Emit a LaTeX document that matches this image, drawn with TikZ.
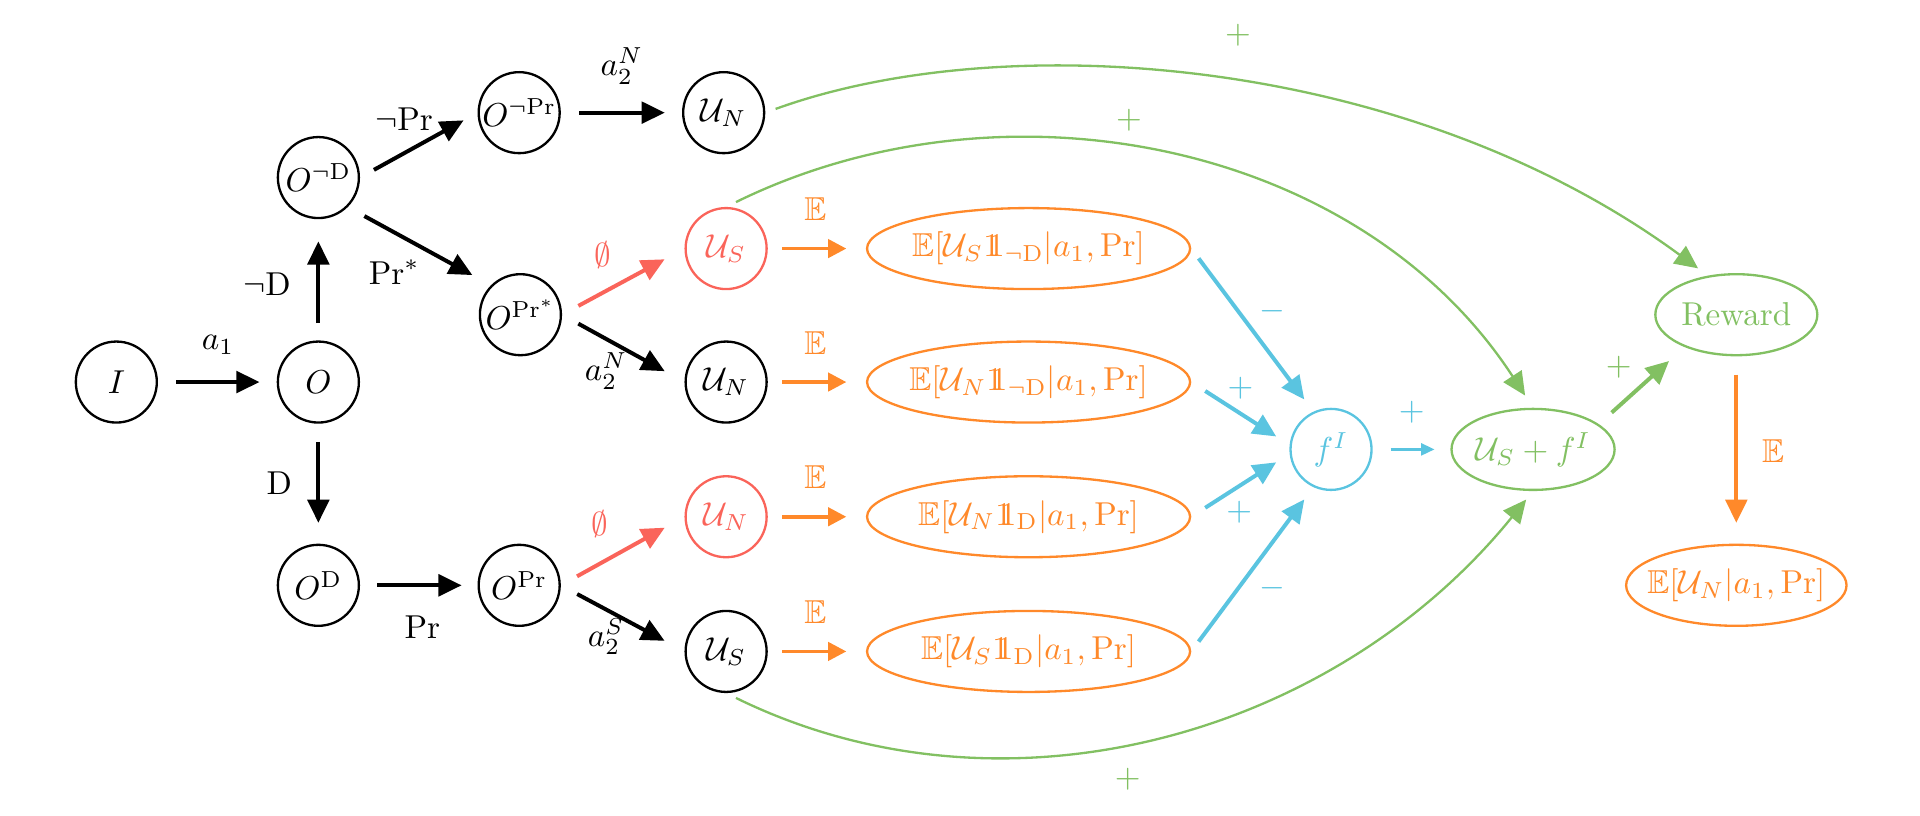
\documentclass[tikz,border=0pt]{standalone}
\usepackage{amsmath,amssymb}
\usetikzlibrary{arrows.meta,shapes.geometric}
\newcommand{\indic}{\mathrm{1}\mkern-6.5mu\mathrm{1}}
\definecolor{cred}{RGB}{250,100,90}
\definecolor{corg}{RGB}{255,137,42}
\definecolor{cblu}{RGB}{90,196,224}
\definecolor{cgrn}{RGB}{130,192,98}
\tikzset{
  circ/.style={circle, draw, line width=0.7pt, minimum size=0.86cm, inner sep=0pt},
  ell/.style={ellipse, draw, line width=0.7pt, minimum height=0.86cm, inner sep=0pt},
  oell/.style={ell, draw=corg, text=corg, inner xsep=-6pt},
  bigtip/.style={-{Triangle[length=7pt,width=6.5pt]}},
  blk/.style={line width=1.2pt, bigtip},
  redarr/.style={line width=1.2pt, cred, bigtip},
  orgarr/.style={line width=1.1pt, corg, -{Triangle[length=5.5pt,width=5.5pt]}},
  bluarr/.style={line width=1.2pt, cblu, bigtip},
  grnarr/.style={line width=0.7pt, cgrn, bigtip},
  lbl/.style={inner sep=0pt}
}
\begin{document}
\begin{tikzpicture}[x=0.013cm,y=0.013cm]
\useasboundingbox (0,0) rectangle (1568,666);
% nodes
\node[circ] (I) at (95,354) {$I$};
\node[circ] (O) at (260,354) {$O$};
\node[circ] (Ond) at (260,521) {$O^{\neg\mathrm{D}}$};
\node[circ] (Od) at (260,188) {$O^{\mathrm{D}}$};
\node[circ] (Onpr) at (424,574) {$O^{\neg\mathrm{Pr}}$};
\node[circ] (Oprs) at (425,409) {$O^{\mathrm{Pr}^*}$};
\node[circ] (Opr) at (424,188) {$O^{\mathrm{Pr}}$};
\node[circ] (UN1) at (591,574) {$\mathcal{U}_N$};
\node[circ, draw=cred, text=cred] (US1) at (593,463) {$\mathcal{U}_S$};
\node[circ] (UN2) at (593,354) {$\mathcal{U}_N$};
\node[circ, draw=cred, text=cred] (UN3) at (593,244) {$\mathcal{U}_N$};
\node[circ] (US2) at (593,134) {$\mathcal{U}_S$};
\node[oell, minimum width=3.43cm] (E1) at (840,463) {$\mathbb{E}[\mathcal{U}_S\indic_{\neg\mathrm{D}}|a_1,\mathrm{Pr}]$};
\node[oell, minimum width=3.43cm] (E2) at (840,354) {$\mathbb{E}[\mathcal{U}_N\indic_{\neg\mathrm{D}}|a_1,\mathrm{Pr}]$};
\node[oell, minimum width=3.43cm] (E3) at (840,244) {$\mathbb{E}[\mathcal{U}_N\indic_{\mathrm{D}}|a_1,\mathrm{Pr}]$};
\node[oell, minimum width=3.43cm] (E4) at (840,134) {$\mathbb{E}[\mathcal{U}_S\indic_{\mathrm{D}}|a_1,\mathrm{Pr}]$};
\node[circ, draw=cblu, text=cblu] (f) at (1087,299) {$f^I$};
\node[ell, draw=cgrn, text=cgrn, minimum width=1.72cm] (usf) at (1252,299) {$\mathcal{U}_S+f^I$};
\node[ell, draw=cgrn, text=cgrn, minimum width=1.72cm] (rew) at (1418,409) {Reward};
\node[oell, minimum width=2.34cm] (eun) at (1418,188) {$\mathbb{E}[\mathcal{U}_N|a_1,\mathrm{Pr}]$};
% black arrows
\draw[blk, shorten <=5.5pt, shorten >=5.2pt] (I.east) -- (O.west);
\draw[blk, shorten <=5.2pt, shorten >=6.7pt] (O.north) -- (Ond.south);
\draw[blk, shorten <=5.5pt, shorten >=6.3pt] (O.south) -- (Od.north);
\draw[blk, shorten <=4.8pt, shorten >=4.8pt] (Ond.east) -- (Onpr.west);
\draw[blk, shorten <=5.7pt, shorten >=6.4pt] (Ond.south east) -- (Oprs.north west);
\draw[blk, shorten <=5.2pt, shorten >=4.8pt] (Od.east) -- (Opr.west);
\draw[blk, shorten <=5.5pt, shorten >=5.2pt] (Onpr.east) -- (UN1.west);
\draw[blk, shorten <=5.6pt, shorten >=6.8pt] (Oprs.east) -- (UN2.west);
\draw[blk, shorten <=5.6pt, shorten >=6.8pt] (Opr.east) -- (US2.west);
\draw[redarr, shorten <=5.6pt, shorten >=6.8pt] (Oprs.east) -- (US1.west);
\draw[redarr, shorten <=5.6pt, shorten >=6.8pt] (Opr.east) -- (UN3.west);
% orange expectation arrows
\draw[orgarr, shorten <=4.4pt, shorten >=5.9pt] (US1.east) -- (E1.west);
\draw[orgarr, shorten <=4.4pt, shorten >=5.9pt] (UN2.east) -- (E2.west);
\draw[orgarr, shorten <=4.4pt, shorten >=5.9pt] (UN3.east) -- (E3.west);
\draw[orgarr, shorten <=4.4pt, shorten >=5.9pt] (US2.east) -- (E4.west);
% blue arrows
\draw[bluarr, shorten <=3.7pt, shorten >=4.6pt] (E1.east) -- (f.115);
\draw[bluarr, shorten <=5pt, shorten >=4.8pt] (E2.east) -- (f.174);
\draw[bluarr, shorten <=5pt, shorten >=4.8pt] (E3.east) -- (f.186);
\draw[bluarr, shorten <=3.7pt, shorten >=4.6pt] (E4.east) -- (f.245);
\draw[line width=0.7pt, cblu, -{Triangle[length=4pt,width=3.6pt]}, shorten <=5.4pt, shorten >=4.8pt] (f.east) -- (usf.west);
% green
\draw[line width=1.2pt, cgrn, bigtip, shorten <=5.2pt, shorten >=6.3pt] (usf.21) -- (rew.212);
\draw[grnarr, shorten <=3.3pt, shorten >=3.7pt] (UN1.east) .. controls +(196,71) and +(-245,180) .. (rew.126);
\draw[grnarr, shorten <=3.3pt, shorten >=4.4pt] (US1.north) .. controls +(226,111) and +(-142,218) .. (usf.north);
\draw[grnarr, shorten <=3.3pt, shorten >=3.3pt] (US2.south) .. controls +(226,-111) and +(-163,-201) .. (usf.south);
% orange reward arrow
\draw[line width=1.2pt, corg, bigtip, shorten <=5.5pt, shorten >=6.3pt] (rew.south) -- (eun.north);
% labels
\node[lbl] (la1) at (178,384) {$a_1$};
\node[lbl] (lnD) at (218,434) {$\neg\mathrm{D}$};
\node[lbl] (lD) at (228,271) {$\mathrm{D}$};
\node[lbl] (lnPr) at (330,569) {$\neg\mathrm{Pr}$};
\node[lbl] (lPrs) at (322,444) {$\mathrm{Pr}^*$};
\node[lbl] (lPr) at (345,154) {$\mathrm{Pr}$};
\node[lbl] (la2a) at (508,612) {$a_2^N$};
\node[lbl, text=cred] (le1) at (492,458) {$\emptyset$};
\node[lbl] (la2b) at (495,363) {$a_2^N$};
\node[lbl, text=cred] (le2) at (490,238) {$\emptyset$};
\node[lbl] (la2c) at (495,146) {$a_2^S$};
\node[lbl, text=corg] (lE1) at (666,495) {$\mathbb{E}$};
\node[lbl, text=corg] (lE2) at (666,386) {$\mathbb{E}$};
\node[lbl, text=corg] (lE3) at (666,276) {$\mathbb{E}$};
\node[lbl, text=corg] (lE4) at (666,166) {$\mathbb{E}$};
\node[lbl, text=cblu] (lb1) at (1039,412) {$-$};
\node[lbl, text=cblu] (lb2) at (1013,349) {$+$};
\node[lbl, text=cblu] (lb3) at (1012,248) {$+$};
\node[lbl, text=cblu] (lb4) at (1039,186) {$-$};
\node[lbl, text=cblu] (lb5) at (1153,329) {$+$};
\node[lbl, text=cgrn] (lg1) at (1322,366) {$+$};
\node[lbl, text=corg] (lE5) at (1448,298) {$\mathbb{E}$};
\node[lbl, text=cgrn] (lg2) at (1011,637) {$+$};
\node[lbl, text=cgrn] (lg3) at (922,568) {$+$};
\node[lbl, text=cgrn] (lg4) at (921,30) {$+$};
\end{tikzpicture}
\end{document}
